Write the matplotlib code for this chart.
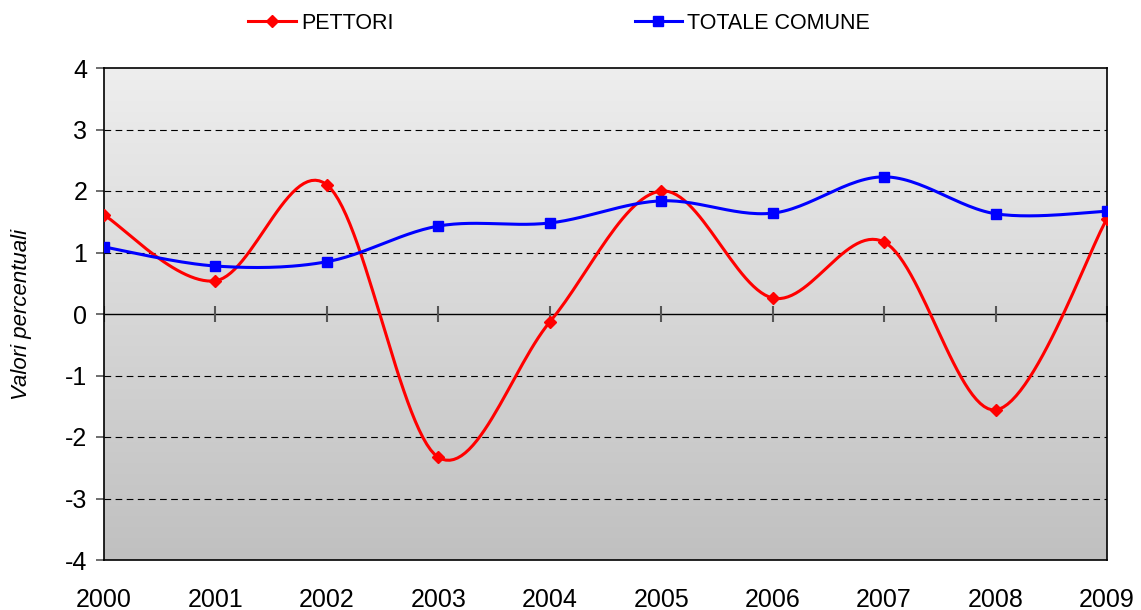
import numpy as np
import matplotlib.pyplot as plt
from matplotlib.lines import Line2D

plt.rcParams['font.family'] = ['Liberation Sans', 'DejaVu Sans']

years = [2000, 2001, 2002, 2003, 2004, 2005, 2006, 2007, 2008, 2009]
pettori = [1.61, 0.54, 2.10, -2.33, -0.13, 2.00, 0.26, 1.17, -1.56, 1.55]
totale = [1.09, 0.78, 0.85, 1.43, 1.48, 1.84, 1.64, 2.23, 1.63, 1.67]
labels = ['PETTORI', 'TOTALE COMUNE']


def smooth(x, y, n=30):
    # excel-like smoothed line: cubic bezier with catmull-rom control points
    x = np.asarray(x, float)
    y = np.asarray(y, float)
    px = np.concatenate([[x[0]], x, [x[-1]]])
    py = np.concatenate([[y[0]], y, [y[-1]]])
    xs, ys = [], []
    t = np.linspace(0, 1, n)
    for i in range(1, len(px) - 2):
        p0 = np.array([px[i], py[i]])
        p3 = np.array([px[i + 1], py[i + 1]])
        c1 = p0 + (np.array([px[i + 1], py[i + 1]]) - np.array([px[i - 1], py[i - 1]])) / 6
        c2 = p3 - (np.array([px[i + 2], py[i + 2]]) - np.array([px[i], py[i]])) / 6
        b = (np.outer((1 - t) ** 3, p0) + np.outer(3 * (1 - t) ** 2 * t, c1)
             + np.outer(3 * (1 - t) * t ** 2, c2) + np.outer(t ** 3, p3))
        xs.extend(b[:, 0])
        ys.extend(b[:, 1])
    return xs, ys


fig = plt.figure(figsize=(11.41, 6.10), dpi=100)
ax = fig.add_axes([104 / 1141, 1 - 560 / 610, (1107 - 104) / 1141, (560 - 68) / 610])

# gradient background
grad = np.linspace(0, 1, 256).reshape(-1, 1)
ax.imshow(grad, extent=[0, 1, 0, 1], transform=ax.transAxes, aspect='auto',
          cmap=plt.matplotlib.colors.LinearSegmentedColormap.from_list('g', ['#eeeeee', '#c0c0c0']),
          zorder=0)

ax.set_xlim(years[0], years[-1])
ax.set_ylim(-4, 4)

for g in [-3, -2, -1, 1, 2, 3]:
    ax.axhline(g, color='black', lw=0.8, ls=(0, (6, 4)), zorder=1)
ax.axhline(0, color='black', lw=1.0, zorder=2)
ax.plot(years, [0] * len(years), ls='none', marker='|', ms=12, mew=1.5, color='#555555', zorder=2)

xs, ys = smooth(years, pettori)
ax.plot(xs, ys, color='#ff0000', lw=2.2, zorder=3)
ax.plot(years, pettori, ls='none', marker='D', ms=6, color='#ff0000', zorder=4)
xs, ys = smooth(years, totale)
ax.plot(xs, ys, color='#0000ff', lw=2.2, zorder=3)
ax.plot(years, totale, ls='none', marker='s', ms=6.5, color='#0000ff', zorder=4)

ax.set_xticks(years)
ax.set_xticklabels([str(y) for y in years], fontsize=18)
ax.tick_params(axis='x', length=0, pad=20)
ax.set_yticks(range(-4, 5))
ax.set_yticklabels([str(v) for v in range(-4, 5)], fontsize=18)
ax.tick_params(axis='y', length=6, color='#555555', width=1.2, pad=6)
for s in ax.spines.values():
    s.set_linewidth(1.2)
ax.set_ylabel('Valori percentuali', fontsize=16, style='italic', labelpad=24)

handles = [Line2D([], [], color='#ff0000', lw=2.2, marker='D', ms=6),
           Line2D([], [], color='#0000ff', lw=2.2, marker='s', ms=6.5)]
fig.legend(handles, labels, loc='center', bbox_to_anchor=(0.49, 0.962), ncol=2,
           frameon=False, fontsize=15.5, columnspacing=11.2, handlelength=2.2, handletextpad=0.25)

fig.savefig('out.png', dpi=100)
